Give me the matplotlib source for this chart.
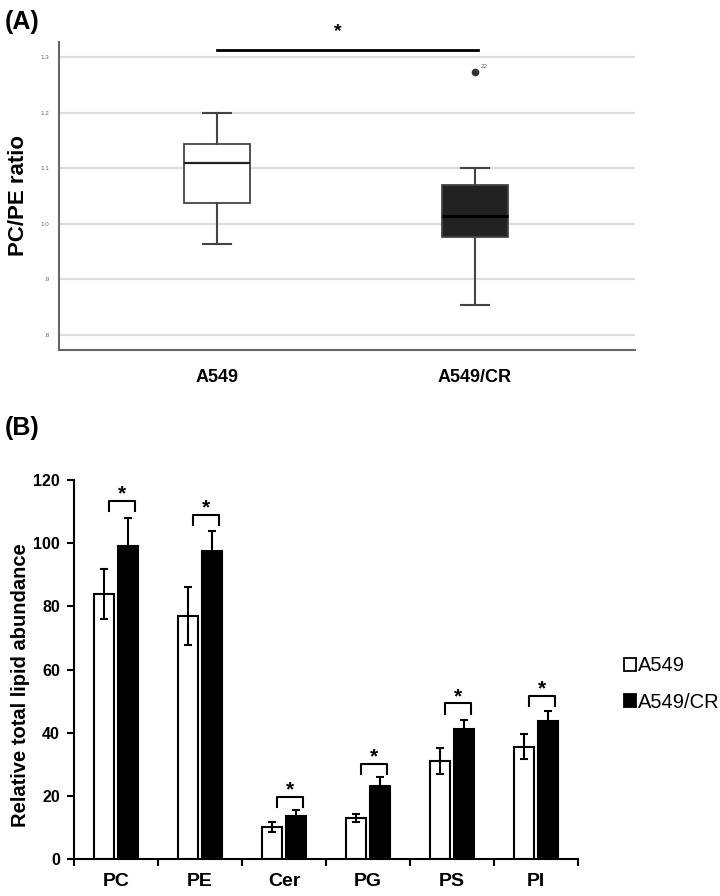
import matplotlib
matplotlib.use("Agg")
import matplotlib.pyplot as plt
from matplotlib.patches import Patch

plt.rcParams['font.family'] = ['Liberation Sans', 'DejaVu Sans']

# ---------------- Panel A data (box summary statistics) ----------------
groups_a = ['A549', 'A549/CR']
box_whislo = [0.963, 0.854]
box_q1 = [1.037, 0.976]
box_med = [1.109, 1.014]
box_q3 = [1.144, 1.069]
box_whishi = [1.200, 1.100]
box_fliers = [[], [1.273]]
flier_labels = [[], ['22']]
yticks_a = [0.8, 0.9, 1.0, 1.1, 1.2, 1.3]
yticklabels_a = ['.8', '.9', '1.0', '1.1', '1.2', '1.3']

# ---------------- Panel B data ----------------
categories = ['PC', 'PE', 'Cer', 'PG', 'PS', 'PI']
a549_mean = [84.0, 77.1, 10.2, 13.0, 31.1, 35.6]
a549_err = [7.9, 9.2, 1.5, 1.2, 4.1, 4.0]
cr_mean = [99.0, 97.5, 13.8, 23.3, 41.3, 43.8]
cr_err = [9.0, 6.5, 1.8, 2.6, 2.7, 3.2]
bracket_top = [113.5, 109.0, 19.8, 30.1, 49.3, 51.6]
yticks_b = [0, 20, 40, 60, 80, 100, 120]

fig = plt.figure(figsize=(7.2, 8.96), dpi=100)

# ======================= Panel A =======================
axA = fig.add_axes([59/720, 1-350/896, (635-59)/720, (350-42)/896])
stats = []
for i, g in enumerate(groups_a):
    stats.append(dict(label=g, whislo=box_whislo[i], q1=box_q1[i], med=box_med[i],
                      q3=box_q3[i], whishi=box_whishi[i], fliers=box_fliers[i]))
bp = axA.bxp(stats, positions=[1, 2], widths=0.256, patch_artist=True,
             showfliers=True, capwidths=0.11,
             boxprops=dict(linewidth=1.3, edgecolor='#444444'),
             whiskerprops=dict(color='#444444', linewidth=1.5),
             capprops=dict(color='#444444', linewidth=1.5),
             medianprops=dict(color='#222222', linewidth=1.6),
             flierprops=dict(marker='o', markerfacecolor='#333333',
                             markeredgecolor='#333333', markersize=4.5))
bp['boxes'][0].set_facecolor('white')
bp['boxes'][1].set_facecolor('#222222')
bp['medians'][1].set_color('black')
bp['medians'][1].set_linewidth(2.2)
for i, labs in enumerate(flier_labels):
    for v, lab in zip(box_fliers[i], labs):
        axA.annotate(lab, (i + 1, v), xytext=(4, 3), textcoords='offset points',
                     fontsize=4.5, color='#666666')

axA.set_xlim(0.388, 2.62)
axA.set_ylim(0.7725, 1.327)
axA.set_yticks(yticks_a)
axA.set_yticklabels(yticklabels_a)
axA.yaxis.grid(True, color='#dddddd', linewidth=1.6)
axA.set_axisbelow(True)
axA.tick_params(axis='y', length=0, labelsize=4.5, labelcolor='#666666', pad=7)
axA.tick_params(axis='x', length=0, pad=14)
for lab in axA.get_xticklabels():
    lab.set_fontweight('bold')
    lab.set_fontsize(13)
for s in ['top', 'right']:
    axA.spines[s].set_visible(False)
for s in ['left', 'bottom']:
    axA.spines[s].set_color('#666666')
    axA.spines[s].set_linewidth(1.5)
axA.set_ylabel('PC/PE ratio', fontsize=16, fontweight='bold')
axA.yaxis.set_label_coords((29 - 59) / 576, 0.5)
axA.plot([1.0, 2.01], [1.313, 1.313], color='black', linewidth=2, clip_on=False)
axA.text(1.47, 1.345, '*', ha='center', va='center', fontsize=14,
         fontweight='bold', clip_on=False)

fig.text(5/720, 1-22/896, '(A)', fontsize=18, fontweight='bold', va='center', ha='left')
fig.text(5/720, 1-428/896, '(B)', fontsize=18, fontweight='bold', va='center', ha='left')

# ======================= Panel B =======================
axB = fig.add_axes([74/720, 1-859.3/896, (578-74)/720, (859.3-480)/896])
x = list(range(len(categories)))
off = 0.145
w = 0.24
xa = [xi - off for xi in x]
xc = [xi + off for xi in x]
axB.bar(xa, a549_mean, width=w, color='white', edgecolor='black', linewidth=1.5,
        label='A549', zorder=2)
axB.bar(xc, cr_mean, width=w, color='black', edgecolor='black', linewidth=1.5,
        label='A549/CR', zorder=2)
axB.errorbar(xa, a549_mean, yerr=a549_err, fmt='none', ecolor='black',
             elinewidth=1.5, capsize=3.2, capthick=1.5, zorder=3)
axB.errorbar(xc, cr_mean, yerr=cr_err, fmt='none', ecolor='black',
             elinewidth=1.5, capsize=3.2, capthick=1.5, zorder=3)

drop = 3.2
for xi, bt in zip(x, bracket_top):
    x0, x1 = xi - 0.085, xi + 0.225
    axB.plot([x0, x0, x1, x1], [bt - drop, bt, bt, bt - drop], color='black',
             linewidth=1.5, zorder=3)
    axB.text(xi + 0.07, bt + 2.2, '*', ha='center', va='center', fontsize=15,
             fontweight='bold')

axB.set_xlim(-0.5, len(categories) - 0.5)
axB.set_ylim(0, 120)
axB.set_yticks(yticks_b)
axB.set_xticks(x)
axB.set_xticklabels(categories)
axB.set_xticks([xi - 0.5 for xi in x] + [len(categories) - 0.5], minor=True)
axB.tick_params(axis='x', which='major', length=0, pad=10)
axB.tick_params(axis='x', which='minor', length=5, width=1.5, direction='out')
axB.tick_params(axis='y', length=5, width=1.5, direction='out', pad=5)
for lab in axB.get_xticklabels():
    lab.set_fontweight('bold')
    lab.set_fontsize(14)
for lab in axB.get_yticklabels():
    lab.set_fontweight('bold')
    lab.set_fontsize(11.5)
for s in ['top', 'right']:
    axB.spines[s].set_visible(False)
for s in ['left', 'bottom']:
    axB.spines[s].set_linewidth(1.5)
axB.set_ylabel('Relative total lipid abundance', fontsize=14.5, fontweight='bold')
axB.yaxis.set_label_coords((30 - 74) / 504, 0.46)

handles = [Patch(facecolor='white', edgecolor='black', linewidth=1.3),
           Patch(facecolor='black', edgecolor='black', linewidth=1.3)]
fig.legend(handles, ['A549', 'A549/CR'], loc='center left',
           bbox_to_anchor=(606/720, 1-684/896), frameon=False, fontsize=14.5,
           handlelength=0.6, handleheight=0.6, handletextpad=0.1, labelspacing=0.85)

fig.savefig('out.png', dpi=100)
